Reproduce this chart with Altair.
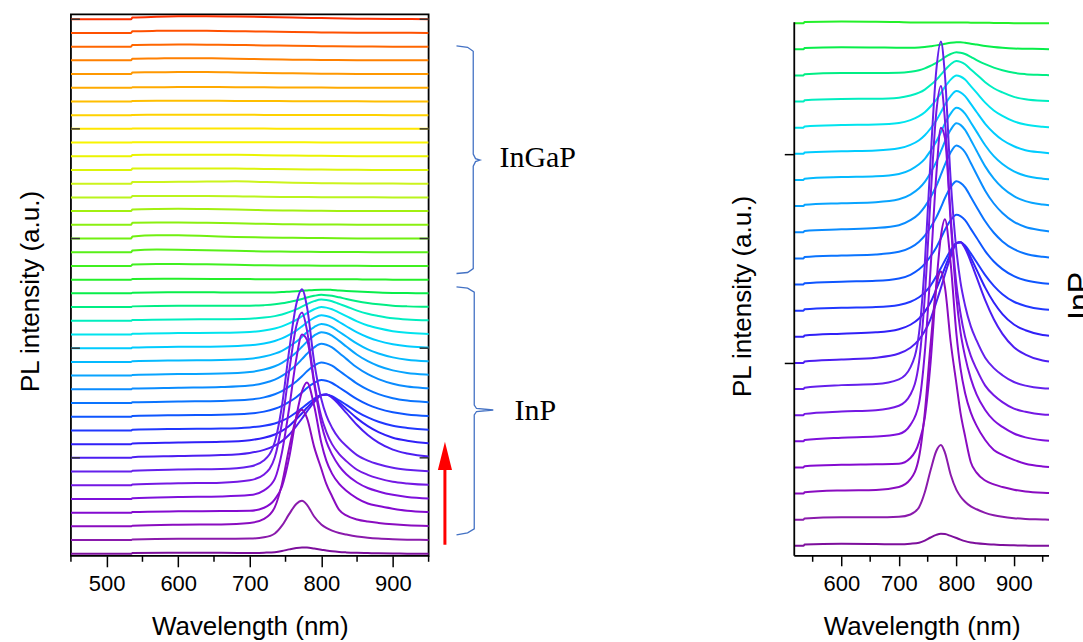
import altair as alt
import pandas as pd

# ---------------- data ----------------
wavelength_inp = [450, 534, 536, 600, 660, 700, 720, 735, 745, 755, 765, 773, 780,
                  790, 800, 807, 815, 825, 835, 850, 865, 880, 900, 920, 950, 961]

# InP spectra (bottom 21 traces), intensity in units of the trace offset
inp_spectra = [
    [0, 0, 0.05, 0.08, 0.07, 0.06, 0.08, 0.12, 0.2, 0.32, 0.42, 0.46, 0.45, 0.38, 0.3, 0.24, 0.18, 0.13, 0.1, 0.07, 0.05, 0.03, 0.02, 0.01, 0, 0],
    [0, 0, 0.05, 0.09, 0.09, 0.11, 0.2, 0.48, 1.05, 1.89, 2.63, 2.86, 2.57, 1.72, 1.14, 0.89, 0.69, 0.51, 0.4, 0.26, 0.17, 0.11, 0.06, 0.03, 0.01, 0],
    [0, 0, 0.05, 0.12, 0.14, 0.25, 0.55, 1.4, 3.1, 5.7, 7.9, 8.5, 7.9, 5.8, 4.2, 3.1, 2.2, 1.2, 0.8, 0.5, 0.35, 0.25, 0.15, 0.08, 0.03, 0.02],
    [0, 0, 0.05, 0.1, 0.12, 0.14, 0.36, 0.97, 1.9, 4.0, 7.0, 8.85, 9.5, 7.8, 5.1, 3.8, 2.85, 2.1, 1.6, 1.05, 0.67, 0.48, 0.29, 0.14, 0.04, 0.02],
    [0, 0, 0.05, 0.14, 0.18, 0.28, 0.63, 1.46, 3.4, 6.6, 10.2, 12.0, 11.6, 8.4, 5.5, 4.2, 3.25, 2.4, 1.8, 1.2, 0.8, 0.55, 0.3, 0.15, 0.04, 0.02],
    [0, 0, 0.05, 0.14, 0.19, 0.36, 0.79, 2.04, 4.54, 8.3, 11.6, 12.6, 11.3, 7.6, 5.0, 3.9, 3.0, 2.27, 1.76, 1.13, 0.76, 0.5, 0.25, 0.13, 0.03, 0.02],
    [0, 0, 0.05, 0.15, 0.19, 0.37, 0.83, 2.15, 4.8, 8.8, 12.2, 13.3, 12.0, 8.0, 5.3, 4.1, 3.2, 2.4, 1.86, 1.2, 0.8, 0.53, 0.27, 0.13, 0.03, 0.02],
    [0, 0, 0.05, 0.13, 0.2, 0.36, 0.58, 0.89, 1.22, 1.68, 2.32, 2.87, 3.38, 4.07, 4.57, 4.62, 4.39, 3.87, 3.28, 2.4, 1.67, 1.11, 0.6, 0.32, 0.09, 0.05],
    [0, 0, 0.05, 0.12, 0.17, 0.29, 0.46, 0.7, 0.96, 1.32, 1.82, 2.25, 2.65, 3.19, 3.58, 3.62, 3.44, 3.03, 2.57, 1.88, 1.31, 0.87, 0.47, 0.25, 0.07, 0.04],
    [0, 0, 0.05, 0.11, 0.14, 0.22, 0.34, 0.51, 0.7, 0.96, 1.32, 1.63, 1.92, 2.31, 2.59, 2.62, 2.49, 2.19, 1.86, 1.36, 0.95, 0.63, 0.34, 0.18, 0.05, 0.03],
    [0, 0, 0.05, 0.11, 0.14, 0.23, 0.37, 0.58, 0.79, 1.08, 1.42, 1.77, 2.09, 2.46, 2.67, 2.62, 2.46, 2.13, 1.79, 1.28, 0.88, 0.59, 0.32, 0.16, 0.05, 0.03],
    [0, 0, 0.05, 0.11, 0.15, 0.25, 0.41, 0.64, 0.87, 1.19, 1.57, 1.95, 2.31, 2.72, 2.95, 2.89, 2.72, 2.35, 1.97, 1.42, 0.98, 0.65, 0.35, 0.18, 0.06, 0.03],
    [0, 0, 0.05, 0.11, 0.16, 0.27, 0.46, 0.71, 0.98, 1.34, 1.77, 2.2, 2.59, 3.06, 3.32, 3.25, 3.06, 2.65, 2.22, 1.59, 1.1, 0.74, 0.4, 0.2, 0.07, 0.03],
    [0, 0, 0.05, 0.11, 0.15, 0.26, 0.44, 0.68, 0.93, 1.28, 1.69, 2.1, 2.48, 2.92, 3.17, 3.11, 2.92, 2.53, 2.12, 1.52, 1.05, 0.7, 0.38, 0.19, 0.06, 0.03],
    [0, 0, 0.05, 0.11, 0.14, 0.23, 0.39, 0.6, 0.81, 1.12, 1.47, 1.83, 2.16, 2.54, 2.76, 2.71, 2.54, 2.2, 1.85, 1.33, 0.91, 0.61, 0.33, 0.16, 0.05, 0.03],
    [0, 0, 0.05, 0.1, 0.13, 0.21, 0.34, 0.52, 0.71, 0.97, 1.28, 1.59, 1.88, 2.21, 2.4, 2.35, 2.21, 1.91, 1.6, 1.15, 0.8, 0.53, 0.29, 0.14, 0.05, 0.02],
    [0, 0, 0.05, 0.1, 0.12, 0.18, 0.29, 0.44, 0.59, 0.81, 1.07, 1.33, 1.56, 1.84, 2.0, 1.96, 1.84, 1.59, 1.34, 0.96, 0.66, 0.45, 0.24, 0.12, 0.04, 0.02],
    [0, 0, 0.05, 0.1, 0.11, 0.15, 0.23, 0.34, 0.46, 0.63, 0.83, 1.03, 1.21, 1.43, 1.55, 1.52, 1.43, 1.23, 1.04, 0.74, 0.51, 0.35, 0.18, 0.09, 0.03, 0.02],
    [0, 0, 0.05, 0.09, 0.09, 0.1, 0.14, 0.2, 0.27, 0.37, 0.48, 0.59, 0.7, 0.82, 0.89, 0.87, 0.82, 0.71, 0.59, 0.43, 0.3, 0.2, 0.1, 0.05, 0.02, 0.01],
    [0, 0, 0.05, 0.08, 0.07, 0.06, 0.06, 0.07, 0.09, 0.12, 0.15, 0.18, 0.21, 0.25, 0.27, 0.27, 0.25, 0.21, 0.18, 0.13, 0.09, 0.06, 0.03, 0.02, 0.01, 0],
    [0, 0, 0.04, 0.06, 0.05, 0.04, 0.03, 0.03, 0.03, 0.03, 0.03, 0.03, 0.03, 0.03, 0.03, 0.03, 0.03, 0.02, 0.02, 0.02, 0.01, 0.01, 0, 0, 0, 0],
]

wavelength_ingap = [450, 534, 536, 570, 600, 640, 680, 720, 760, 800, 850, 900, 950]

# InGaP spectra (upper 19 traces)
ingap_spectra = [
    [0, 0, 0.1, 0.15, 0.15, 0.12, 0.08, 0.05, 0.03, 0.02, 0.01, 0, 0],
    [0, 0, 0.12, 0.2, 0.19, 0.15, 0.1, 0.06, 0.04, 0.02, 0.01, 0, 0],
    [0, 0, 0.14, 0.24, 0.23, 0.18, 0.12, 0.08, 0.05, 0.03, 0.01, 0, 0],
    [0, 0, 0.15, 0.17, 0.17, 0.15, 0.11, 0.07, 0.04, 0.02, 0.01, 0, 0],
    [0, 0, 0.12, 0.16, 0.17, 0.15, 0.11, 0.07, 0.04, 0.02, 0.01, 0, 0],
    [0, 0, 0.1, 0.1, 0.1, 0.1, 0.08, 0.05, 0.03, 0.02, 0.01, 0, 0],
    [0, 0, 0.12, 0.13, 0.14, 0.16, 0.17, 0.12, 0.07, 0.04, 0.02, 0.01, 0],
    [0, 0, 0.1, 0.1, 0.1, 0.11, 0.1, 0.08, 0.05, 0.03, 0.01, 0, 0],
    [0, 0, 0.1, 0.11, 0.12, 0.12, 0.11, 0.08, 0.05, 0.03, 0.01, 0, 0],
    [0, 0, 0.02, 0.03, 0.03, 0.03, 0.03, 0.02, 0.02, 0.01, 0.01, 0, 0],
    [0, 0, 0.02, 0.02, 0.03, 0.03, 0.02, 0.02, 0.01, 0.01, 0, 0, 0],
    [0, 0, 0.02, 0.03, 0.03, 0.03, 0.03, 0.02, 0.02, 0.01, 0.01, 0, 0],
    [0, 0, 0.03, 0.05, 0.05, 0.05, 0.04, 0.03, 0.02, 0.01, 0.01, 0, 0],
    [0, 0, 0.03, 0.04, 0.05, 0.05, 0.04, 0.03, 0.02, 0.01, 0, 0, 0],
    [0, 0, 0.12, 0.13, 0.15, 0.15, 0.12, 0.08, 0.05, 0.03, 0.01, 0, 0],
    [0, 0, 0.12, 0.14, 0.16, 0.15, 0.12, 0.08, 0.05, 0.03, 0.01, 0, 0],
    [0, 0, 0.12, 0.14, 0.15, 0.14, 0.12, 0.09, 0.06, 0.03, 0.01, 0, 0],
    [0, 0, 0.12, 0.15, 0.16, 0.15, 0.13, 0.1, 0.07, 0.04, 0.02, 0.01, 0],
    [0, 0, 0.12, 0.18, 0.21, 0.22, 0.2, 0.16, 0.12, 0.08, 0.04, 0.02, 0],
]

line_colors = [
    "#7d0f9c", "#8a1aac", "#8a0cc0", "#840ad0", "#7e10dc", "#7418e4", "#6420ec",
    "#4c1ef2", "#3020f8", "#2038ff", "#0e56ff", "#0a74ff", "#0a8cff", "#08a4ff",
    "#04baff", "#00ccff", "#00e4ee", "#00eec0", "#00ee84", "#08ee4a", "#24f02a",
    "#40f020", "#58f018", "#70f010", "#8af010", "#a2f010", "#baf41c", "#ccf41c",
    "#dcf40a", "#eaf400", "#f8f400", "#ffe600", "#ffd200", "#ffbe00", "#ffaa00",
    "#ff9800", "#ff8000", "#ff6600", "#ff5000", "#ff3000",
]
offset_step = 1.0

left_ticks_major = [500, 600, 700, 800, 900]
left_ticks_minor = [450, 550, 650, 750, 850, 950]
right_ticks_major = [600, 700, 800, 900]
right_ticks_minor = [550, 650, 750, 850, 950]
left_y_ticks = [7, 15, 23, 31, 39]
right_y_ticks = [7, 15]

# annotation geometry (in data units of the left panel)
brace_ingap_wl = [989, 1004.5, 1012.4, 1012.4, 1015.6, 1021.9, 1015.6, 1012.4, 1012.4, 1004.5, 989]
brace_ingap_y = [37.05, 36.95, 36.66, 29.16, 28.83, 28.72, 28.61, 28.28, 20.81, 20.52, 20.45]
brace_inp_wl = [989, 1004.5, 1013.8, 1013.8, 1017, 1040.4, 1017, 1013.8, 1013.8, 1004.5, 989]
brace_inp_y = [19.48, 19.38, 19.09, 10.85, 10.6, 10.49, 10.38, 10.13, 1.82, 1.53, 1.38]
label_text = ["InGaP", "InP"]
label_wl = [1049, 1070]
label_y = [28.9, 10.45]
arrow_wl = 972.8
arrow_from = 0.66
arrow_to = 6.4
arrow_head = 7.15

# ---------------- tables ----------------
rows = []
for k, spec in enumerate(inp_spectra):
    assert len(spec) == len(wavelength_inp), k
    for w, v in zip(wavelength_inp, spec):
        rows.append(dict(idx=k, wl=w, y=v + k * offset_step, color=line_colors[k]))
for j, spec in enumerate(ingap_spectra):
    k = len(inp_spectra) + j
    assert len(spec) == len(wavelength_ingap), k
    for w, v in zip(wavelength_ingap, spec):
        rows.append(dict(idx=k, wl=w, y=v + k * offset_step, color=line_colors[k]))
df = pd.DataFrame(rows).sort_values(["idx", "wl"], ascending=[False, True]).reset_index(drop=True)
df_inp = df[df["idx"] < len(inp_spectra)].reset_index(drop=True)

brace_rows = []
for name, wls, ys in [("ingap", brace_ingap_wl, brace_ingap_y), ("inp", brace_inp_wl, brace_inp_y)]:
    for o, (w, yv) in enumerate(zip(wls, ys)):
        brace_rows.append(dict(brace=name, ord=o, wl=w, y=yv))
df_brace = pd.DataFrame(brace_rows)
df_labels = pd.DataFrame(dict(text=label_text, wl=label_wl, y=label_y))
df_shaft = pd.DataFrame(dict(wl=[arrow_wl], y=[arrow_from], y2=[arrow_to]))
df_head = pd.DataFrame(dict(wl=[arrow_wl], y=[arrow_head]))

FONT = "Liberation Sans"
XT = "Wavelength (nm)"
YT = "PL intensity (a.u.)"
LW = 2.0

# ---------------- left panel ----------------
W1, H1 = 358, 542
xs1 = alt.Scale(domain=[450, 950], nice=False, zero=False)
ys1 = alt.Scale(domain=[-0.146, 39.36], nice=False, zero=False)

lines1 = alt.Chart(df).mark_line(strokeWidth=LW, interpolate="monotone", clip=True).encode(
    x=alt.X("wl:Q", scale=xs1, title=XT,
            axis=alt.Axis(values=left_ticks_major, tickSize=11, labelPadding=7,
                          domain=False, titlePadding=19)),
    y=alt.Y("y:Q", scale=ys1, title=YT,
            axis=alt.Axis(labels=False, ticks=False, domain=False, titlePadding=27, titleY=277)),
    color=alt.Color("color:N", scale=None),
    detail="idx:N",
)
minor1 = alt.Chart(pd.DataFrame(dict(wl=left_ticks_minor))).mark_rule(
    color="black", strokeWidth=1.5).encode(
    x=alt.X("wl:Q", scale=xs1, title=XT), y=alt.value(H1), y2=alt.value(H1 + 6))
ytick_l = alt.Chart(pd.DataFrame(dict(y=left_y_ticks))).mark_rule(
    color="#333333", strokeWidth=1.5).encode(
    y=alt.Y("y:Q", scale=ys1, title=YT), x=alt.value(0), x2=alt.value(9))
ytick_r = alt.Chart(pd.DataFrame(dict(y=left_y_ticks))).mark_rule(
    color="#333333", strokeWidth=1.5).encode(
    y=alt.Y("y:Q", scale=ys1, title=YT), x=alt.value(W1 - 9), x2=alt.value(W1))
braces = alt.Chart(df_brace).mark_line(color="#4472C4", strokeWidth=1.3).encode(
    x=alt.X("wl:Q", scale=xs1, title=XT), y=alt.Y("y:Q", scale=ys1, title=YT),
    detail="brace:N", order="ord:Q")
labels = alt.Chart(df_labels).mark_text(
    font="Liberation Serif", fontSize=30, align="left", baseline="middle", color="black").encode(
    x=alt.X("wl:Q", scale=xs1, title=XT), y=alt.Y("y:Q", scale=ys1, title=YT), text="text:N")
shaft = alt.Chart(df_shaft).mark_rule(color="#ff0000", strokeWidth=3).encode(
    x=alt.X("wl:Q", scale=xs1, title=XT), y=alt.Y("y:Q", scale=ys1, title=YT), y2="y2:Q")
head = alt.Chart(df_head).mark_point(
    shape="M-0.5,1L0,-1L0.5,1Z", size=800, filled=True, color="#ff0000", opacity=1, strokeWidth=0).encode(
    x=alt.X("wl:Q", scale=xs1, title=XT), y=alt.Y("y:Q", scale=ys1, title=YT))

left = alt.layer(lines1, minor1, ytick_l, ytick_r, braces, labels, shaft, head).properties(
    width=W1, height=H1, view=alt.ViewBackground(stroke="black", strokeWidth=1.8))

# ---------------- right panel ----------------
W2, H2 = 289, 542
xs2 = alt.Scale(domain=[518, 518 + W2 / 0.5756], nice=False, zero=False)
ys2 = alt.Scale(domain=[-0.38, 20.34], nice=False, zero=False)

lines2 = alt.Chart(df_inp).mark_line(strokeWidth=LW, interpolate="monotone", clip=True).encode(
    x=alt.X("wl:Q", scale=xs2, title=XT,
            axis=alt.Axis(values=right_ticks_major, tickSize=10, labelPadding=8,
                          domain=False, titlePadding=19, titleX=127.5)),
    y=alt.Y("y:Q", scale=ys2, title=YT,
            axis=alt.Axis(labels=False, values=right_y_ticks, tickSize=10, domain=False,
                          titlePadding=28, titleY=282)),
    color=alt.Color("color:N", scale=None),
    detail="idx:N",
)
minor2 = alt.Chart(pd.DataFrame(dict(wl=right_ticks_minor))).mark_rule(
    color="black", strokeWidth=1.5).encode(
    x=alt.X("wl:Q", scale=xs2, title=XT), y=alt.value(H2), y2=alt.value(H2 + 6))
xline2 = alt.Chart(pd.DataFrame(dict(a=[0]))).mark_rule(color="black", strokeWidth=1.8).encode(
    x=alt.value(0), x2=alt.value(255), y=alt.value(H2))
yline2 = alt.Chart(pd.DataFrame(dict(a=[0]))).mark_rule(color="black", strokeWidth=1.8).encode(
    x=alt.value(0), y=alt.value(8), y2=alt.value(H2))
inp_side = alt.Chart(pd.DataFrame(dict(text=["InP"], wl=[989], y=[9.56]))).mark_text(
    font=FONT, fontSize=32, angle=270, align="center", baseline="top", color="black", clip=True).encode(
    x=alt.X("wl:Q", scale=xs2, title=XT), y=alt.Y("y:Q", scale=ys2, title=YT), text="text:N")

right = alt.layer(lines2, minor2, xline2, yline2, inp_side).properties(width=W2, height=H2)

chart = alt.hconcat(left, right, spacing=366, bounds="flush").properties(
    padding={"left": 17, "top": 13, "right": 0, "bottom": 0}
).configure_view(strokeWidth=0).configure_axis(
    labelFont=FONT, titleFont=FONT, labelFontSize=22, titleFontSize=26,
    titleFontWeight="normal", labelColor="black", titleColor="black",
    tickColor="black", tickWidth=1.5, domainColor="black", grid=False,
)

chart.save("out.html", embed_options={"renderer": "svg", "actions": False})
